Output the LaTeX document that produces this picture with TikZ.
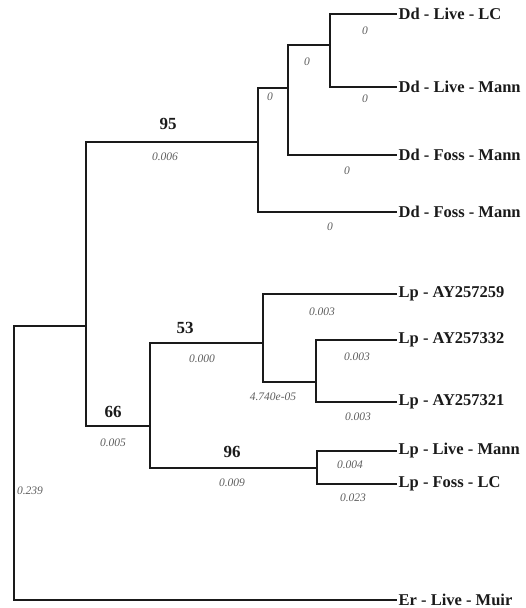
\documentclass[tikz,border=0pt]{standalone}
\usepackage{fontspec}
\setmainfont{Liberation Serif}
\usetikzlibrary{positioning}
\definecolor{phInk}{HTML}{1A1A1A}
\definecolor{phMuted}{HTML}{5E5E5E}
\tikzset{
  ph branch/.style={draw=phInk, line width=1.6pt, line cap=rect},
  ph taxon/.style={anchor=west, inner sep=2.5pt, text=phInk,
    font=\fontsize{16.5}{18}\selectfont\bfseries},
  ph support/.style={inner sep=0pt, text=phInk,
    font=\fontsize{17}{19}\selectfont\bfseries},
  ph length/.style={inner sep=0pt, text=phMuted,
    font=\fontsize{11.5}{13}\selectfont\itshape}
}

\begin{document}
\begin{tikzpicture}[x=1pt,y=-1pt]
  \useasboundingbox (0,0) rectangle (526,608);

  % internal nodes
  \coordinate (dd1) at (330,45);
  \coordinate (dd2) at (288,88);
  \coordinate (dd3) at (258,142);
  \coordinate (ingroup) at (86,326);
  \coordinate (lpAll) at (150,426);
  \coordinate (lp53) at (263,343);
  \coordinate (lp332) at (316,382);
  \coordinate (lp96) at (317,468);
  \coordinate (root) at (14,326);

  % taxa
  \node[ph taxon] (ddLiveLC) at (396,14) {Dd - Live - LC};
  \node[ph taxon] (ddLiveMann) at (396,87) {Dd - Live - Mann};
  \node[ph taxon] (ddFossMannA) at (396,155) {Dd - Foss - Mann};
  \node[ph taxon] (ddFossMannB) at (396,212) {Dd - Foss - Mann};
  \node[ph taxon] (lpAY259) at (396,294) {Lp - AY257259};
  \node[ph taxon] (lpAY332) at (396,340) {Lp - AY257332};
  \node[ph taxon] (lpAY321) at (396,402) {Lp - AY257321};
  \node[ph taxon] (lpLiveMann) at (396,451) {Lp - Live - Mann};
  \node[ph taxon] (lpFossLC) at (396,484) {Lp - Foss - LC};
  \node[ph taxon] (erLiveMuir) at (396,600) {Er - Live - Muir};

  % branches
  \draw[ph branch] (dd1) |- (ddLiveLC.west);
  \draw[ph branch] (dd1) |- (ddLiveMann.west);
  \draw[ph branch] (dd2) |- (dd1);
  \draw[ph branch] (dd2) |- (ddFossMannA.west);
  \draw[ph branch] (dd3) |- (dd2);
  \draw[ph branch] (dd3) |- (ddFossMannB.west);
  \draw[ph branch] (ingroup) |- (dd3);
  \draw[ph branch] (ingroup) |- (lpAll);
  \draw[ph branch] (lpAll) |- (lp53);
  \draw[ph branch] (lpAll) |- (lp96);
  \draw[ph branch] (lp53) |- (lpAY259.west);
  \draw[ph branch] (lp53) |- (lp332);
  \draw[ph branch] (lp332) |- (lpAY332.west);
  \draw[ph branch] (lp332) |- (lpAY321.west);
  \draw[ph branch] (lp96) |- (lpLiveMann.west);
  \draw[ph branch] (lp96) |- (lpFossLC.west);
  \draw[ph branch] (root) |- (ingroup);
  \draw[ph branch] (root) |- (erLiveMuir.west);

  % bootstrap support
  \node[ph support] (sup95) at (168,124) {95};
  \node[ph support] (sup53) at (185,328) {53};
  \node[ph support] (sup66) at (113,412) {66};
  \node[ph support] (sup96) at (232,452) {96};

  % branch lengths
  \node[ph length] (lenLC) at (365,31) {0};
  \node[ph length] (lenDd1) at (307,62) {0};
  \node[ph length] (lenDd2) at (270,97) {0};
  \node[ph length] (lenLiveMann) at (365,99) {0};
  \node[ph length] (lenFossA) at (347,171) {0};
  \node[ph length] (lenFossB) at (330,227) {0};
  \node[ph length] (lenDd3) at (165,157) {0.006};
  \node[ph length] (len259) at (322,312) {0.003};
  \node[ph length] (len53) at (202,359) {0.000};
  \node[ph length] (len332) at (357,357) {0.003};
  \node[ph length] (lenNode332) at (273,397) {4.740e-05};
  \node[ph length] (len321) at (358,417) {0.003};
  \node[ph length] (lenLpAll) at (113,443) {0.005};
  \node[ph length] (len96) at (232,483) {0.009};
  \node[ph length] (lenLpLive) at (350,465) {0.004};
  \node[ph length] (lenLpFoss) at (353,498) {0.023};
  \node[ph length] (lenIngroup) at (30,491) {0.239};
\end{tikzpicture}
\end{document}
